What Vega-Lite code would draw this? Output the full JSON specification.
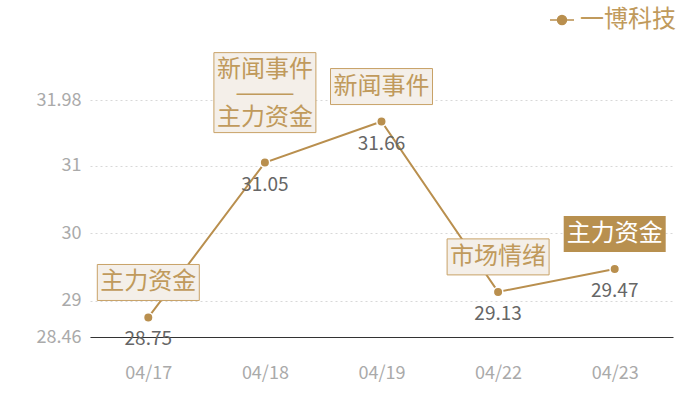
{
  "$schema": "https://vega.github.io/schema/vega-lite/v6.json",
  "width": 583,
  "height": 237,
  "autosize": "none",
  "padding": {"left": 90, "top": 100, "right": 27, "bottom": 63},
  "config": {
    "font": "Noto Sans CJK SC",
    "view": {"stroke": null}
  },
  "data": {
    "values": [
      {"date": "04/17", "price": 28.75, "name": "一博科技", "tag": "主力资金"},
      {"date": "04/18", "price": 31.05, "name": "一博科技", "tag": "新闻事件\n———\n主力资金"},
      {"date": "04/19", "price": 31.66, "name": "一博科技", "tag": "新闻事件"},
      {"date": "04/22", "price": 29.13, "name": "一博科技", "tag": "市场情绪"},
      {"date": "04/23", "price": 29.47, "name": "一博科技", "tag": "主力资金"}
    ]
  },
  "encoding": {
    "x": {
      "field": "date", "type": "ordinal",
      "scale": {"type": "point", "padding": 0.5},
      "axis": {
        "title": null, "labelAngle": 0, "ticks": false, "tickSize": 0,
        "labelPadding": 27, "labelFontSize": 18, "labelColor": "#aaaaaa",
        "domainColor": "#333333", "grid": false
      }
    },
    "y": {
      "field": "price", "type": "quantitative",
      "scale": {"domain": [28.46, 31.98], "nice": false, "zero": false},
      "axis": {
        "title": null, "values": [28.46, 29, 30, 31, 31.98], "format": ".4~g",
        "domain": false, "ticks": false, "tickSize": 0, "labelPadding": 9,
        "labelFontSize": 18, "labelColor": "#aaaaaa",
        "gridColor": "#d8d8d8", "gridDash": [2, 3]
      }
    }
  },
  "layer": [
    {
      "mark": {"type": "line", "strokeWidth": 2},
      "encoding": {
        "color": {
          "field": "name", "type": "nominal",
          "scale": {"range": ["#b98f4e"]},
          "legend": {
            "title": null, "orient": "none", "legendX": 459, "legendY": -93,
            "symbolType": "M-1,0H1M0.375,0C0.375,0.207,0.207,0.375,0,0.375C-0.207,0.375,-0.375,0.207,-0.375,0C-0.375,-0.207,-0.207,-0.375,0,-0.375C0.207,-0.375,0.375,-0.207,0.375,0Z",
            "symbolSize": 576, "labelFontSize": 24, "labelColor": "#c09a5c",
            "labelOffset": 5,
            "encode": {
              "symbols": {
                "update": {
                  "fill": {"value": "#b98f4e"},
                  "stroke": {"value": "#c9a570"},
                  "strokeWidth": {"value": 1.5},
                  "opacity": {"value": 1}
                }
              }
            }
          }
        }
      }
    },
    {
      "mark": {"type": "circle", "size": 90, "color": "#b98f4e", "opacity": 1, "stroke": "#ffffff", "strokeWidth": 1.5}
    },
    {
      "mark": {"type": "text", "dy": 22, "fontSize": 19, "color": "#666666", "baseline": "middle"},
      "encoding": {"text": {"field": "price", "type": "quantitative", "format": ".2f"}}
    },
    {
      "transform": [{"filter": "datum.date != '04/18' && datum.date != '04/23'"}],
      "layer": [
        {
          "mark": {
            "type": "point", "shape": "M-1,-0.353H1V0.353H-1Z", "size": 10404,
            "filled": true, "fill": "#f4efe9", "stroke": "#c8a267", "strokeWidth": 1,
            "opacity": 1, "yOffset": -35
          }
        },
        {
          "mark": {"type": "text", "dy": -35, "fontSize": 24, "color": "#c09a5c", "baseline": "middle"},
          "encoding": {"text": {"field": "tag"}}
        }
      ]
    },
    {
      "transform": [{"filter": "datum.date == '04/18'"}],
      "layer": [
        {
          "mark": {
            "type": "point", "shape": "M-1,-0.784H1V0.784H-1Z", "size": 10404,
            "filled": true, "fill": "#f4efe9", "stroke": "#c8a267", "strokeWidth": 1,
            "opacity": 1, "yOffset": -70
          }
        },
        {
          "mark": {"type": "text", "dy": -93, "fontSize": 24, "lineHeight": 24, "lineBreak": "\n", "color": "#c09a5c", "baseline": "middle"},
          "encoding": {"text": {"field": "tag"}}
        }
      ]
    },
    {
      "transform": [{"filter": "datum.date == '04/23'"}],
      "layer": [
        {
          "mark": {
            "type": "point", "shape": "M-1,-0.353H1V0.353H-1Z", "size": 10404,
            "filled": true, "fill": "#b8904f", "strokeWidth": 0,
            "opacity": 1, "yOffset": -35
          }
        },
        {
          "mark": {"type": "text", "dy": -35, "fontSize": 24, "color": "#ffffff", "baseline": "middle"},
          "encoding": {"text": {"field": "tag"}}
        }
      ]
    }
  ]
}
